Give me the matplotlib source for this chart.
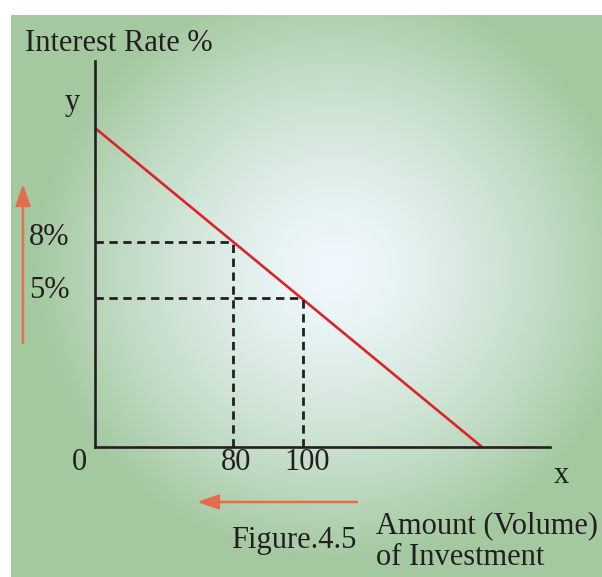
import numpy as np
import matplotlib
matplotlib.use("Agg")
import matplotlib.pyplot as plt
from matplotlib.patches import FancyArrowPatch

# chart data (chart units: origin at axis corner)
line_x = [0, 387]
line_y = [319, 0]
rate_labels = ["8%", "5%"]
amount_labels = ["80", "100"]
point_x = [138, 208]
point_y = [205, 149]

W, H = 602, 577
ink = "#231f20"
red = "#d9252a"
arrow_col = "#e76b4f"
fsize = 22

plt.rcParams['font.family'] = ['Liberation Serif', 'DejaVu Serif']

fig = plt.figure(figsize=(W / 100, H / 100), dpi=100)
fig.patch.set_facecolor("white")

# background gradient panel
bg = fig.add_axes([0, 0, 1, 1])
bg.set_xlim(0, W)
bg.set_ylim(H, 0)
bg.axis("off")
gx, gy = np.meshgrid(np.arange(11, W), np.arange(15, H))
d = np.sqrt(((gx - 335) / 300.0) ** 2 + ((gy - 270) / 290.0) ** 2)
t = (np.clip(d, 0, 1) ** 1.4)[..., None]
c0 = np.array([0xf0, 0xf8, 0xfd]) / 255
c1 = np.array([0xa4, 0xc9, 0xa1]) / 255
img = c0 * (1 - t) + c1 * t
bg.imshow(img, extent=(11, W, H, 15), aspect="auto", interpolation="bilinear")

def px(x, y):
    return x / W, 1 - y / H

# main axes
ax = fig.add_axes([95 / W, (H - 447) / H, 455 / W, (447 - 61) / H])
ax.patch.set_alpha(0)
ax.set_xlim(0, 455)
ax.set_ylim(0, 386)
for s in ["top", "right"]:
    ax.spines[s].set_visible(False)
for s in ["left", "bottom"]:
    ax.spines[s].set_linewidth(1.9)
    ax.spines[s].set_color(ink)
ax.set_xticks([])
ax.set_yticks([])

ax.plot(line_x, line_y, color=red, lw=1.9, solid_capstyle="butt", clip_on=False)
for xv, yv in zip(point_x, point_y):
    ax.plot([0, xv], [yv, yv], color=ink, lw=2.0, dashes=(3.0, 2.0), clip_on=False)
    ax.plot([xv, xv], [0, yv], color=ink, lw=2.0, dashes=(3.0, 2.0), clip_on=False)

# texts
fig.text(*px(25, 51), "Interest Rate %", fontsize=fsize, color=ink, va="baseline")
fig.text(*px(72, 110), "y", fontsize=fsize, color=ink, va="baseline", ha="center")
fig.text(*px(29, 245), rate_labels[0], fontsize=fsize, color=ink, va="baseline")
fig.text(*px(29, 298), rate_labels[1], fontsize=fsize, color=ink, va="baseline")
fig.text(*px(79, 470), "0", fontsize=fsize, color=ink, va="baseline", ha="center")
fig.text(*px(236, 470), amount_labels[0], fontsize=fsize, color=ink, va="baseline", ha="center")
fig.text(*px(307, 470), amount_labels[1], fontsize=fsize, color=ink, va="baseline", ha="center")
fig.text(*px(561, 483), "x", fontsize=fsize, color=ink, va="baseline", ha="center")
fig.text(*px(231, 548), "Figure.4.5", fontsize=fsize, color=ink, va="baseline")
fig.text(*px(376, 533), "Amount (Volume)", fontsize=fsize, color=ink, va="baseline")
fig.text(*px(376, 565), "of Investment", fontsize=fsize, color=ink, va="baseline")

# arrows
for a, b in [((23, 343), (23, 184)), ((357, 502), (197, 502))]:
    arr = FancyArrowPatch(px(*a), px(*b), transform=fig.transFigure,
                          arrowstyle="-|>,head_length=13,head_width=4.5",
                          mutation_scale=1, shrinkA=0, shrinkB=0,
                          color=arrow_col, lw=1.8)
    fig.add_artist(arr)

fig.savefig("out.png", dpi=100)
